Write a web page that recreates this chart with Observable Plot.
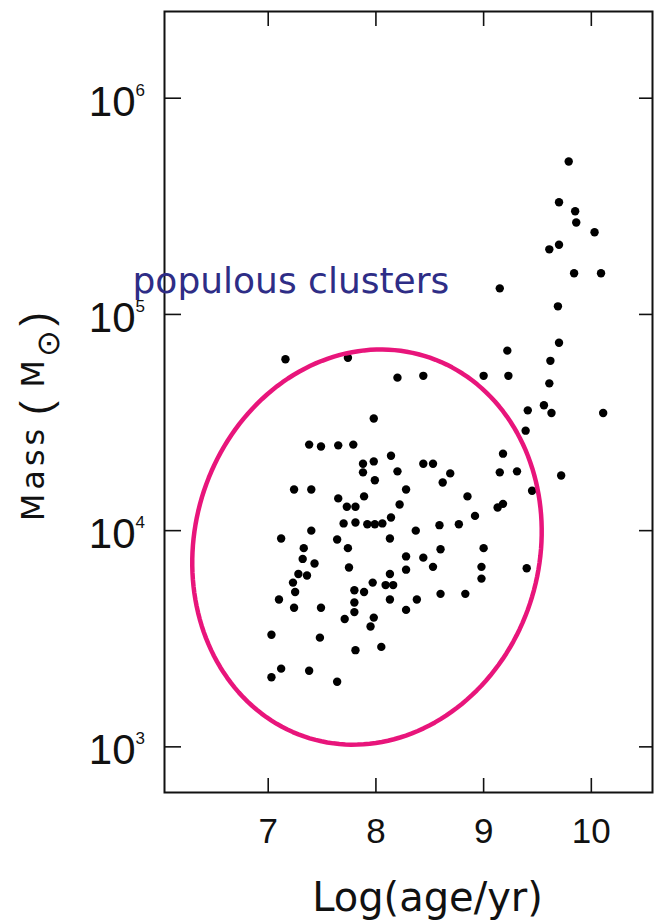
<!DOCTYPE html>
<html>
<head>
<meta charset="utf-8">
<script src="https://cdn.jsdelivr.net/npm/d3@7"></script>
<script src="https://cdn.jsdelivr.net/npm/@observablehq/plot@0.6"></script>
<style>
  html, body { margin: 0; padding: 0; background: #fff; }
  #chart svg { display: block; }
</style>
</head>
<body>
<div id="chart"></div>
<script>
// Star clusters: log(age / yr) against mass in solar masses
const logAge = [
  9.79, 9.70, 9.85, 9.86, 10.03, 9.70, 9.61, 9.84, 10.09, 9.15,
  9.69, 9.70, 7.16, 7.74, 9.22, 9.62, 8.20, 8.44, 9.00, 9.23,
  9.61, 9.41, 9.56, 9.63, 10.11, 7.98, 9.39, 7.38, 7.49, 7.65,
  7.79, 9.18, 8.14, 7.88, 7.98, 8.44, 8.53, 7.88, 8.20, 8.69,
  9.15, 9.31, 7.99, 8.62, 9.72, 7.24, 7.40, 8.28, 9.45, 7.65,
  7.89, 8.85, 7.73, 7.81, 8.22, 9.13, 9.18, 8.92, 8.14, 7.70,
  7.81, 7.92, 7.99, 8.06, 8.59, 8.77, 7.40, 8.37, 7.12, 7.64,
  8.13, 7.33, 7.74, 8.60, 9.00, 7.32, 7.43, 7.75, 8.28, 8.44,
  8.53, 8.28, 8.98, 9.40, 7.28, 7.36, 8.13, 7.23, 7.97, 8.09,
  8.16, 8.98, 7.25, 7.80, 7.89, 8.60, 8.83, 7.10, 7.80, 8.13,
  8.38, 7.24, 7.49, 7.80, 8.28, 7.71, 7.98, 7.95, 7.03, 7.48,
  8.05, 7.81, 7.12, 7.03, 7.38, 7.64
];
const mass = [
  510000, 330000, 300000, 266000, 240000, 210000, 200000, 155000, 155000, 132000,
  109000, 74000, 62000, 63000, 68000, 61000, 51000, 52000, 52000, 52000,
  48000, 36000, 38000, 35000, 35000, 33000, 29000, 25000, 24500, 24800,
  25000, 22700, 22200, 20400, 20900, 20400, 20400, 18600, 18800, 18400,
  18600, 18800, 17100, 16700, 18000, 15500, 15500, 15500, 15300, 14100,
  14400, 14400, 12900, 12900, 13200, 12800, 13300, 11700, 11500, 10800,
  10900, 10700, 10700, 10800, 10600, 10700, 10000, 10000, 9200, 9100,
  9200, 8300, 8300, 8200, 8300, 7400, 7050, 6750, 7600, 7500,
  6800, 6600, 6800, 6700, 6300, 6200, 6300, 5750, 5750, 5600,
  5600, 6000, 5200, 5300, 5200, 5100, 5100, 4800, 4650, 4800,
  4800, 4400, 4400, 4200, 4300, 3900, 3960, 3600, 3300, 3200,
  2900, 2800, 2300, 2100, 2250, 2000
];

const xTicks = [7, 8, 9, 10];
const yTicks = [1e3, 1e4, 1e5, 1e6];
const groupLabel = "populous clusters";
const groupLabelAt = {logAge: 5.74, mass: 126000};

// Hand-drawn outline around the bulk of young, low-mass clusters
// (centre, radii and a small skew, in log-age / log-mass units)
const ring = {cx: 7.917, rx: 1.62, sx: 0.088, cy: 3.924, ry: 0.9135, sy: 0.023};
const ringPath = d3.range(0, 180).map(i => {
  const t = (i / 180) * 2 * Math.PI;
  return {
    logAge: ring.cx + ring.rx * Math.cos(t) + ring.sx * Math.sin(t),
    mass: Math.pow(10, ring.cy + ring.ry * Math.sin(t) + ring.sy * Math.cos(t))
  };
});

const clusters = logAge.map((a, i) => ({logAge: a, mass: mass[i]}));

const W = 654, H = 922;
const mL = 164, mR = 2, mT = 11, mB = 130;
const fw = W - mL - mR, fh = H - mT - mB;
const ink = "#111";
const sans = "'DejaVu Sans', sans-serif";

// pieces of the rotated y-axis title, set along the left margin
const yTitle = (t, o) => Plot.text([t], {
  text: d => d, frameAnchor: "left", rotate: -90, textAnchor: "middle", fill: ink, ...o
});

const chart = Plot.plot({
  width: W,
  height: H,
  marginLeft: mL,
  marginRight: mR,
  marginTop: mT,
  marginBottom: mB,
  style: {fontFamily: "'Liberation Sans', Arial, sans-serif", background: "#fff", color: ink},
  x: {domain: [6.037, 10.568], axis: null},
  y: {type: "log", domain: [615, 2.518e6], axis: null},
  marks: [
    // inward ticks on all four sides
    Plot.tickX(xTicks, {x: d => d, insetTop: fh - 14, stroke: ink, strokeWidth: 1.6}),
    Plot.tickX(xTicks, {x: d => d, insetBottom: fh - 15, stroke: ink, strokeWidth: 1.6}),
    Plot.tickY(yTicks, {y: d => d, insetRight: fw - 17, stroke: ink, strokeWidth: 1.6}),
    Plot.tickY(yTicks, {y: d => d, insetLeft: fw - 13, stroke: ink, strokeWidth: 1.6}),
    Plot.frame({stroke: ink, strokeWidth: 2}),

    // x tick labels
    Plot.text(xTicks, {
      x: d => d, text: d => String(d), frameAnchor: "bottom",
      lineAnchor: "top", dy: 26, fontSize: 35, fill: ink
    }),
    // y tick labels: base and exponent
    Plot.text(yTicks, {
      y: d => d, text: () => "10", frameAnchor: "left", textAnchor: "end",
      dx: -29, dy: 4, fontSize: 42, fontFamily: "'Liberation Sans Narrow', 'Liberation Sans', sans-serif", fill: ink
    }),
    Plot.text(yTicks, {
      y: d => d, text: d => String(Math.round(Math.log10(d))), frameAnchor: "left", textAnchor: "start",
      dx: -29, dy: -8, fontSize: 17, fill: ink
    }),

    // axis titles
    Plot.text(["Log(age/yr)"], {
      text: d => d, frameAnchor: "bottom", lineAnchor: "bottom", dx: 19, dy: 118,
      fontSize: 40, fontFamily: sans, fill: ink
    }),
    yTitle("Mass", {lineAnchor: "bottom", dx: -121, dy: 71, fontSize: 32, fontFamily: sans}),
    yTitle("(", {lineAnchor: "bottom", dx: -115, dy: 6, fontSize: 42}),
    yTitle("M", {lineAnchor: "bottom", dx: -121, dy: -28, fontSize: 32, fontFamily: sans}),
    yTitle("\u2299", {lineAnchor: "middle", dx: -116, dy: -58.5, fontSize: 32, fontFamily: sans}),
    yTitle(")", {lineAnchor: "bottom", dx: -115, dy: -83, fontSize: 42}),

    // clusters
    Plot.dot(clusters, {x: "logAge", y: "mass", r: 4.2, fill: "#000", stroke: null}),

    // outline of the low-mass group
    Plot.line(ringPath, {x: "logAge", y: "mass", curve: "linear-closed",
      stroke: "#e8157b", strokeWidth: 4.5}),

    // annotation
    Plot.text([groupLabel], {
      x: () => groupLabelAt.logAge, y: () => groupLabelAt.mass, text: d => d,
      textAnchor: "start", lineAnchor: "bottom", fontSize: 36,
      fontFamily: sans, fill: "#2e2d86"
    })
  ]
});

// the "Mass" part of the y title is set a little wider
d3.select(chart).selectAll("text")
  .filter(function() { return this.textContent === "Mass"; })
  .style("letter-spacing", "4px");

document.getElementById("chart").appendChild(chart);
</script>
</body>
</html>
